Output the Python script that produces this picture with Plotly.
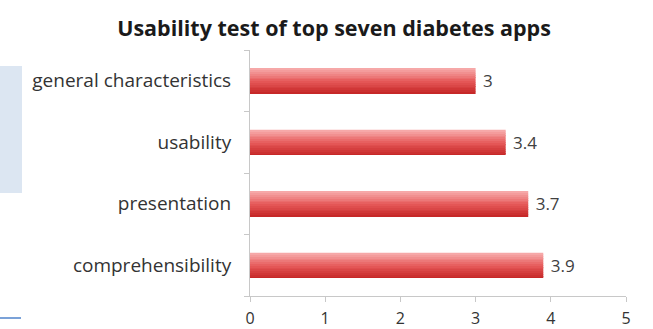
import plotly.graph_objects as go

categories = ["comprehensibility", "presentation", "usability", "general characteristics"]
scores = [3.9, 3.7, 3.4, 3]
x_ticks = [0, 1, 2, 3, 4, 5]

W, H = 653, 329
L, R, T, B = 250, 27, 50, 33
PW, PH = W - L - R, H - T - B

def px(x):
    return (x - L) / PW

def py(y):
    return (H - B - y) / PH

FONT = "Open Sans"

fig = go.Figure()

# gradient bars built from strips (top light -> bottom dark)
bar_w = 0.41
n = 14
top_c = (246, 168, 168)
mid_c = (230, 90, 90)
bot_c = (198, 40, 40)
def lerp(a, b, t):
    return tuple(int(round(a[i] + (b[i] - a[i]) * t)) for i in range(3))
for i in range(n):
    t = i / (n - 1)  # 0 bottom, 1 top
    if t < 0.5:
        c = lerp(bot_c, mid_c, t / 0.5)
    else:
        c = lerp(mid_c, top_c, (t - 0.5) / 0.5)
    fig.add_trace(go.Bar(
        y=categories, x=scores, orientation="h",
        width=bar_w / n, offset=-bar_w / 2 + i * bar_w / n,
        marker=dict(color="rgb(%d,%d,%d)" % c, line=dict(width=0)),
        hoverinfo="skip", showlegend=False,
    ))

fig.add_trace(go.Bar(
    y=categories, x=scores, orientation="h", width=bar_w,
    marker=dict(color="rgba(0,0,0,0)", line=dict(width=0)),
    texttemplate="\u00a0%{x}",
    textposition="outside", cliponaxis=False,
    textfont=dict(family=FONT, size=17, color="#404040"),
    showlegend=False,
))

fig.update_layout(
    width=W, height=H,
    margin=dict(l=L, r=R, t=T, b=B, pad=0, autoexpand=False),
    barmode="overlay",
    paper_bgcolor="white", plot_bgcolor="white",
    title=dict(text="<b>Usability test of top seven diabetes apps</b>",
               x=334 / W, xanchor="center", y=1 - 28 / H, yanchor="middle",
               font=dict(family=FONT, size=21.5, color="#1a1a1a")),
    xaxis=dict(range=[0, 5], tickvals=x_ticks, showgrid=False, zeroline=False,
               showline=True, linecolor="#c8c8c8", linewidth=1,
               ticks="outside", ticklen=5, tickcolor="#c8c8c8",
               ticklabelstandoff=3, automargin=False,
               tickfont=dict(family=FONT, size=16, color="#333333")),
    yaxis=dict(range=[-0.5, 3.5], showgrid=False, zeroline=False,
               showline=True, linecolor="#c8c8c8", linewidth=1,
               ticks="outside", ticklen=5, tickcolor="#c8c8c8",
               tickson="boundaries", ticklabelstandoff=14, automargin=False,
               tickfont=dict(family=FONT, size=19, color="#333333")),
    shapes=[
        dict(type="rect", xref="paper", yref="paper",
             x0=px(0), x1=px(22), y0=py(193), y1=py(66),
             fillcolor="#dce6f2", line=dict(width=0), layer="below"),
        dict(type="line", xref="paper", yref="paper",
             x0=px(0), x1=px(21), y0=py(318), y1=py(318),
             line=dict(color="#7ba2d8", width=2)),
    ],
)

fig.write_html("out.html")
